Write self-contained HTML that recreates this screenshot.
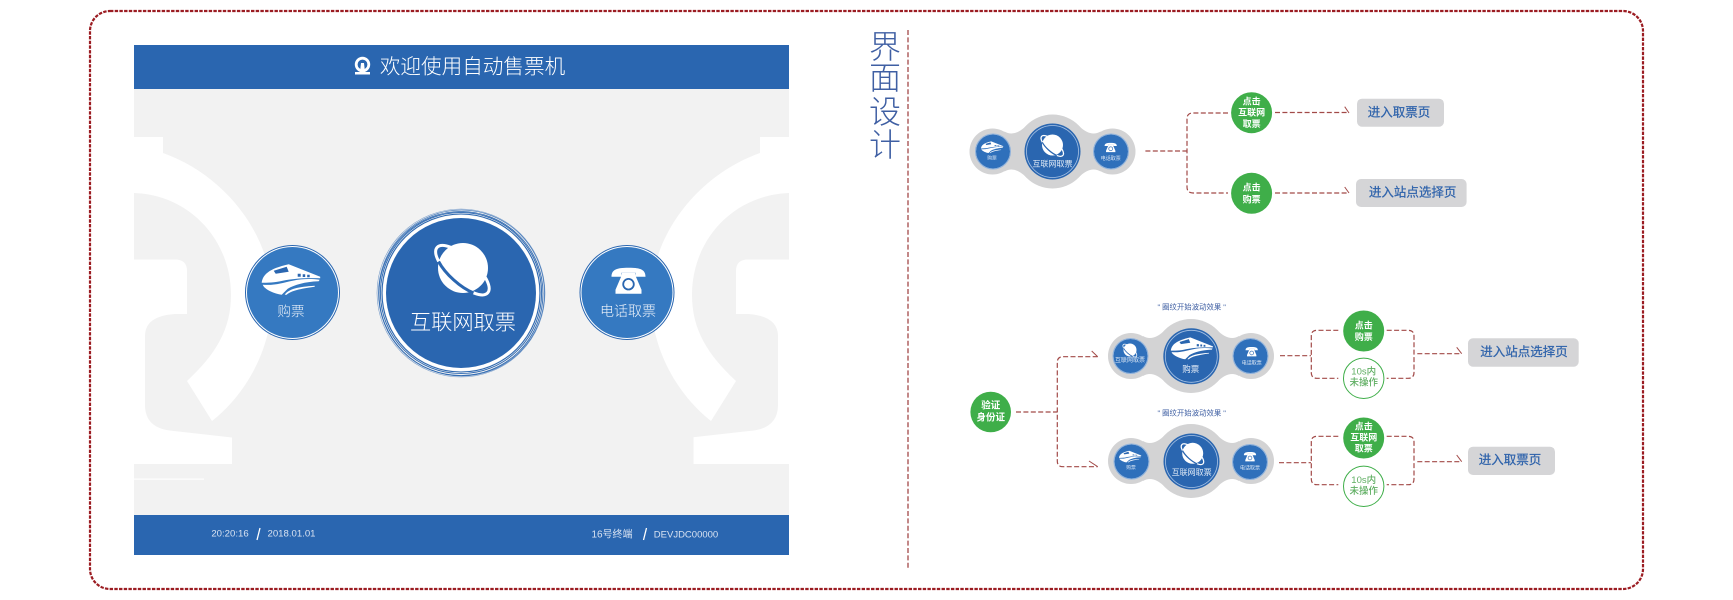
<!DOCTYPE html>
<html>
<head>
<meta charset="utf-8">
<style>
html,body{margin:0;padding:0;background:#fff;width:1733px;height:600px;overflow:hidden}
svg{display:block;filter:blur(.3px)}
text{font-family:"Liberation Sans","Noto Sans CJK SC",sans-serif;text-anchor:middle;dominant-baseline:central}
.w{fill:#fff}
.b{fill:#2f63ab;stroke:#2f63ab;stroke-width:.25}
.g{fill:#fff;font-weight:700}
.o{fill:#5fae62;font-weight:500}
.d{fill:#3f5fa3}
.c{fill:none;stroke:#a24a48;stroke-width:1.2;stroke-dasharray:5 2.4}
.h{fill:none;stroke:#a24a48;stroke-width:1}
</style>
</head>
<body>
<svg width="1733" height="600" viewBox="0 0 1733 600" xmlns="http://www.w3.org/2000/svg">
<defs>
  <g id="train" fill="#fff">
    <path d="M-29,3 C-28,-5 -22,-11 -2,-15.5 L29.5,-3 L29.5,-1.5 C12,-2 2,-1 -8,1 C-16,3 -24,3 -29,3Z"/>
    <path d="M-28,5 C-16,6 -8,3 2,1 C12,-1 20,-1 29,0 L28,1.5 C14,2 4,5 -3,9 L-9,15 C-16,14 -26,10 -28,5Z"/>
    <path d="M-6,15 C-2,9 8,7 24,6 L24,7 C10,9 0,11 -4,15Z"/>
    <path fill="#2a66b0" d="M-17,-9 L-4,-13 L-2,-8 L-15,-6Z M7,-6 L10,-6 L10,-3 L7,-3Z M12,-5.5 L14.5,-5.5 L14.5,-2.7 L12,-2.7Z M16.5,-5 L19,-5 L19,-2.5 L16.5,-2.5Z"/>
  </g>
  <g id="phone">
    <path fill="#fff" d="M-17,-4 C-17,-11 -12,-13 0,-13 C12,-13 17,-11 17,-4 L7,-4 L7,-8 L-7,-8 L-7,-4Z"/>
    <path fill="#fff" d="M-6.5,-8 L6.5,-8 L7,-5 L13,9 L13,13 L-13,13 L-13,9 L-7,-5Z"/>
    <circle cx="0" cy="3.5" r="6.2" fill="#2a66b0"/>
    <circle cx="0" cy="3.5" r="4.4" fill="#fff"/>
  </g>
  <g id="planet">
    <ellipse cx="1" cy="2" rx="34" ry="13" transform="rotate(42)" fill="none" stroke="#fff" stroke-width="3"/>
    <circle cx="0" cy="0" r="25" fill="#fff"/>
    <path d="M-22.5,11.5 A34,13 0 0 0 24.5,11.5" transform="rotate(42)" fill="none" stroke="#2a66b0" stroke-width="3"/>
  </g>
  <g id="blob" fill="#d3d3d4">
    <circle cx="-60" cy="0" r="23"/>
    <circle cx="0" cy="0" r="37"/>
    <circle cx="60" cy="0" r="23"/>
    <path d="M-48,-20 Q-38,-14 -26,-26 L-26,26 Q-38,14 -48,20Z"/>
    <path d="M48,-20 Q38,-14 26,-26 L26,26 Q38,14 48,20Z"/>
  </g>
  <g id="small">
    <circle r="17" fill="#2f70bb"/>
    <circle r="17.5" fill="none" stroke="#8fb2dc" stroke-width="1"/>
  </g>
  <g id="bigc">
    <circle r="28" fill="#2a66b0"/>
    <circle r="26" fill="none" stroke="#a9c3e4" stroke-width="0.8"/>
  </g>
  <g id="deco">
    <path d="M134,137 L163,137 L163,153 C225,175 272,235 272,298 C272,350 245,395 212,421 L187,381 C215,355 231,330 231,295 C231,240 190,195 134,193Z"/>
    <path d="M134,259.5 L175,259.5 Q187,259.5 187,271 L187,314 L175,314 Q145,316 145,336 L145,405 Q145,429 174,431 L232,437.5 L232,464 L134,464Z"/>
  </g>
</defs>

<!-- outer frame -->
<rect x="90" y="11" width="1553" height="578" rx="20" ry="20" fill="none" stroke="#9b1c22" stroke-width="2.2" stroke-dasharray="3.4 1.3"/>

<!-- kiosk panel -->
<rect x="134" y="89" width="655" height="426" fill="#f2f2f2"/>
<use href="#deco" fill="#fff"/>
<use href="#deco" fill="#fff" transform="translate(923,0) scale(-1,1)"/>
<rect x="690.5" y="436" width="3" height="29" fill="#f2f2f2"/>
<rect x="134" y="478.5" width="70" height="1.2" fill="#fff"/>
<rect x="134" y="45" width="655" height="44" fill="#2a66b0"/>
<rect x="134" y="515" width="655" height="40" fill="#2a66b0"/>

<!-- logo + title -->
<circle cx="362.5" cy="64.5" r="6.3" fill="none" stroke="#fff" stroke-width="2.8"/>
<path d="M361,63 L364,63 L365,72 L370,72 L370,74.5 L355,74.5 L355,72 L360,72Z" fill="#fff"/>
<text x="472.5" y="67" font-size="20.6" class="w" style="font-weight:300">欢迎使用自动售票机</text>

<!-- footer -->
<g>
  <text x="230" y="534" font-size="9.6" fill="#d9e3f2">20:20:16</text>
  <text x="291.5" y="534" font-size="9.6" fill="#d9e3f2">2018.01.01</text>
  <text x="612" y="535" font-size="10" fill="#d9e3f2">16号终端</text>
  <text x="686" y="535" font-size="9.5" fill="#d9e3f2">DEVJDC00000</text>
</g>
<path d="M257,540 L260,528 M643.5,540 L646.5,528" stroke="#fff" stroke-width="1.3"/>

<!-- left circle -->
<circle cx="292.5" cy="292.5" r="47" fill="#fff" stroke="#2a66b0" stroke-width="1"/>
<circle cx="292.5" cy="292.5" r="45.5" fill="#3579c1"/>
<use href="#train" transform="translate(290.7,279.7)"/>
<text x="291" y="311.5" font-size="13.5" fill="#e8eff8" style="font-weight:300">购票</text>

<!-- right circle -->
<circle cx="627" cy="292.5" r="47" fill="#fff" stroke="#2a66b0" stroke-width="1"/>
<circle cx="627" cy="292.5" r="45.5" fill="#3579c1"/>
<use href="#phone" transform="translate(628.5,280.7)"/>
<text x="628" y="311" font-size="14" fill="#eef3fa" style="font-weight:300">电话取票</text>

<!-- centre circle -->
<g fill="none" stroke="#2a66b0">
  <circle cx="461" cy="293" r="84" stroke-width="0.6" stroke-opacity=".6"/>
  <circle cx="461.5" cy="293" r="83" stroke-width="0.8" stroke-opacity=".8"/>
  <circle cx="461" cy="293.5" r="82" stroke-width="0.8"/>
  <circle cx="461" cy="293" r="80.6" stroke-width="0.9"/>
  <circle cx="461" cy="293" r="79" stroke-width="1.1"/>
</g>
<circle cx="461" cy="293" r="78" fill="#fff"/>
<circle cx="461" cy="293" r="75" fill="#2a66b0"/>
<use href="#planet" transform="translate(463,268)"/>
<text x="463" y="323" font-size="21.2" class="w" style="font-weight:300">互联网取票</text>

<!-- vertical title -->
<g font-size="32" style="font-weight:300">
  <text x="885" y="47" class="d">界</text>
  <text x="885" y="78" class="d">面</text>
  <text x="885" y="112" class="d">设</text>
  <text x="885" y="145" class="d">计</text>
</g>
<line x1="908" y1="30" x2="908" y2="569" stroke="#9b3a3a" stroke-width="1.2" stroke-dasharray="5 2.4"/>

<!-- group 1 -->
<use href="#blob" transform="translate(1052.5,151.5)"/>
<use href="#bigc" transform="translate(1052.5,151.5)"/>
<use href="#small" transform="translate(993,151.5)"/>
<use href="#small" transform="translate(1111,151.5)"/>
<use href="#planet" transform="translate(1052.5,145) scale(.42)"/>
<text x="1052.5" y="164" font-size="8" fill="#dfe9f5">互联网取票</text>
<use href="#train" transform="translate(992,147.3) scale(.38)"/>
<text x="992" y="159" font-size="4.8" fill="#dfe9f5">购票</text>
<use href="#phone" transform="translate(1110.7,147.5) scale(.36)"/>
<text x="1110.7" y="159" font-size="5" fill="#dfe9f5">电话取票</text>

<path class="c" d="M1145.4,151 L1187,151"/>
<path class="c" d="M1228,113 L1193,113 Q1187,113 1187,119 L1187,187 Q1187,193 1193,193 L1228,193"/>
<path class="c" d="M1275,112.5 L1349,112.5"/>
<path class="c" d="M1275,193 L1349,193"/>
<path class="h" d="M1344.7,106.7 L1349,113 M1344.7,187 L1349,193"/>
<circle cx="1251.6" cy="112.7" r="20.5" fill="#3fae49"/>
<text x="1251.6" y="101.5" font-size="9" class="g">点击</text>
<text x="1251.6" y="112.7" font-size="9" class="g">互联网</text>
<text x="1251.6" y="124" font-size="9" class="g">取票</text>
<circle cx="1251.6" cy="193.3" r="20.5" fill="#3fae49"/>
<text x="1251.6" y="187.5" font-size="9" class="g">点击</text>
<text x="1251.6" y="199.5" font-size="9" class="g">购票</text>
<rect x="1357" y="98.7" width="87" height="28" rx="5" fill="#d5d5d7"/>
<text x="1399" y="112.5" font-size="12.5" class="b">进入取票页</text>
<rect x="1356" y="179" width="110.6" height="28" rx="5" fill="#d5d5d7"/>
<text x="1412.6" y="192.5" font-size="12.5" class="b">进入站点选择页</text>

<!-- left verify -->
<circle cx="990.7" cy="412" r="20.3" fill="#3fae49"/>
<text x="990.7" y="406" font-size="9.5" class="g">验证</text>
<text x="990.7" y="418" font-size="9.5" class="g">身份证</text>
<path class="c" d="M1016,412 L1057.3,412"/>
<path class="c" d="M1097.7,356.7 L1063,356.7 Q1057.3,356.7 1057.3,362.5 L1057.3,461 Q1057.3,466.7 1063,466.7 L1097.7,466.7"/>
<path class="h" d="M1091.7,351 L1097.7,356.7 M1089,461 L1097.7,466.7"/>

<!-- group 2 -->
<text x="1191.7" y="307" font-size="7.4" class="d">" 圈纹开始波动效果 "</text>
<use href="#blob" transform="translate(1191,356)"/>
<use href="#bigc" transform="translate(1191.3,356.3)"/>
<use href="#small" transform="translate(1130.5,356)"/>
<use href="#small" transform="translate(1250.5,356)"/>
<use href="#planet" transform="translate(1130,350) scale(.26)"/>
<text x="1130" y="361" font-size="6" fill="#dfe9f5">互联网取票</text>
<use href="#train" transform="translate(1191.7,348.5) scale(.72)"/>
<text x="1190.7" y="369" font-size="8.5" fill="#e8eff8">购票</text>
<use href="#phone" transform="translate(1251.7,351.7) scale(.36)"/>
<text x="1251.7" y="363.3" font-size="5" fill="#dfe9f5">电话取票</text>

<path class="c" d="M1280,355.7 L1311,355.7"/>
<path class="c" d="M1338.3,330.3 L1317,330.3 Q1311.3,330.3 1311.3,336 L1311.3,372.5 Q1311.3,378.3 1317,378.3 L1338.3,378.3"/>
<path class="c" d="M1386.7,330.3 L1408,330.3 Q1414,330.3 1414,336 L1414,372.5 Q1414,378.3 1408,378.3 L1386.7,378.3"/>
<path class="c" d="M1417.3,353.7 L1461.7,353.7"/>
<path class="h" d="M1456.7,347.3 L1461.7,353.7"/>
<circle cx="1363.7" cy="331" r="20.5" fill="#3fae49"/>
<text x="1363.7" y="325.5" font-size="9" class="g">点击</text>
<text x="1363.7" y="336.8" font-size="9" class="g">购票</text>
<circle cx="1363.7" cy="378.3" r="20.2" fill="#fff" stroke="#3fae49" stroke-width="1"/>
<text x="1363.7" y="372" font-size="9.5" class="o">10s内</text>
<text x="1363.7" y="383" font-size="9.5" class="o">未操作</text>
<rect x="1468" y="338.3" width="110.7" height="28.4" rx="5" fill="#d5d5d7"/>
<text x="1524" y="352" font-size="12.5" class="b">进入站点选择页</text>

<!-- group 3 -->
<text x="1191.7" y="413" font-size="7.4" class="d">" 圈纹开始波动效果 "</text>
<use href="#blob" transform="translate(1191,461)"/>
<use href="#bigc" transform="translate(1191.5,461.5)"/>
<use href="#small" transform="translate(1131.5,461.5)"/>
<use href="#small" transform="translate(1250,462)"/>
<use href="#train" transform="translate(1130,456.7) scale(.38)"/>
<text x="1131" y="468.3" font-size="4.8" fill="#dfe9f5">购票</text>
<use href="#planet" transform="translate(1192.7,453.3) scale(.42)"/>
<text x="1191.7" y="472.7" font-size="8" fill="#dfe9f5">互联网取票</text>
<use href="#phone" transform="translate(1250,456.7) scale(.36)"/>
<text x="1250" y="468.3" font-size="5" fill="#dfe9f5">电话取票</text>

<path class="c" d="M1279,462.7 L1311,462.7"/>
<path class="c" d="M1338.3,436.3 L1317,436.3 Q1311.3,436.3 1311.3,442 L1311.3,479 Q1311.3,484.7 1317,484.7 L1338.3,484.7"/>
<path class="c" d="M1386.7,436.3 L1408,436.3 Q1414,436.3 1414,442 L1414,479 Q1414,484.7 1408,484.7 L1386.7,484.7"/>
<path class="c" d="M1417.3,461.7 L1461.7,461.7"/>
<path class="h" d="M1456.7,455 L1461.7,461.7"/>
<circle cx="1363.7" cy="438" r="20.5" fill="#3fae49"/>
<text x="1363.7" y="426.5" font-size="9" class="g">点击</text>
<text x="1363.7" y="437.5" font-size="9" class="g">互联网</text>
<text x="1363.7" y="448.5" font-size="9" class="g">取票</text>
<circle cx="1363.7" cy="486.3" r="20.2" fill="#fff" stroke="#3fae49" stroke-width="1"/>
<text x="1363.7" y="480.5" font-size="9.5" class="o">10s内</text>
<text x="1363.7" y="491.5" font-size="9.5" class="o">未操作</text>
<rect x="1468" y="446.7" width="87" height="28.3" rx="5" fill="#d5d5d7"/>
<text x="1510" y="460" font-size="12.5" class="b">进入取票页</text>
</svg>
</body>
</html>
